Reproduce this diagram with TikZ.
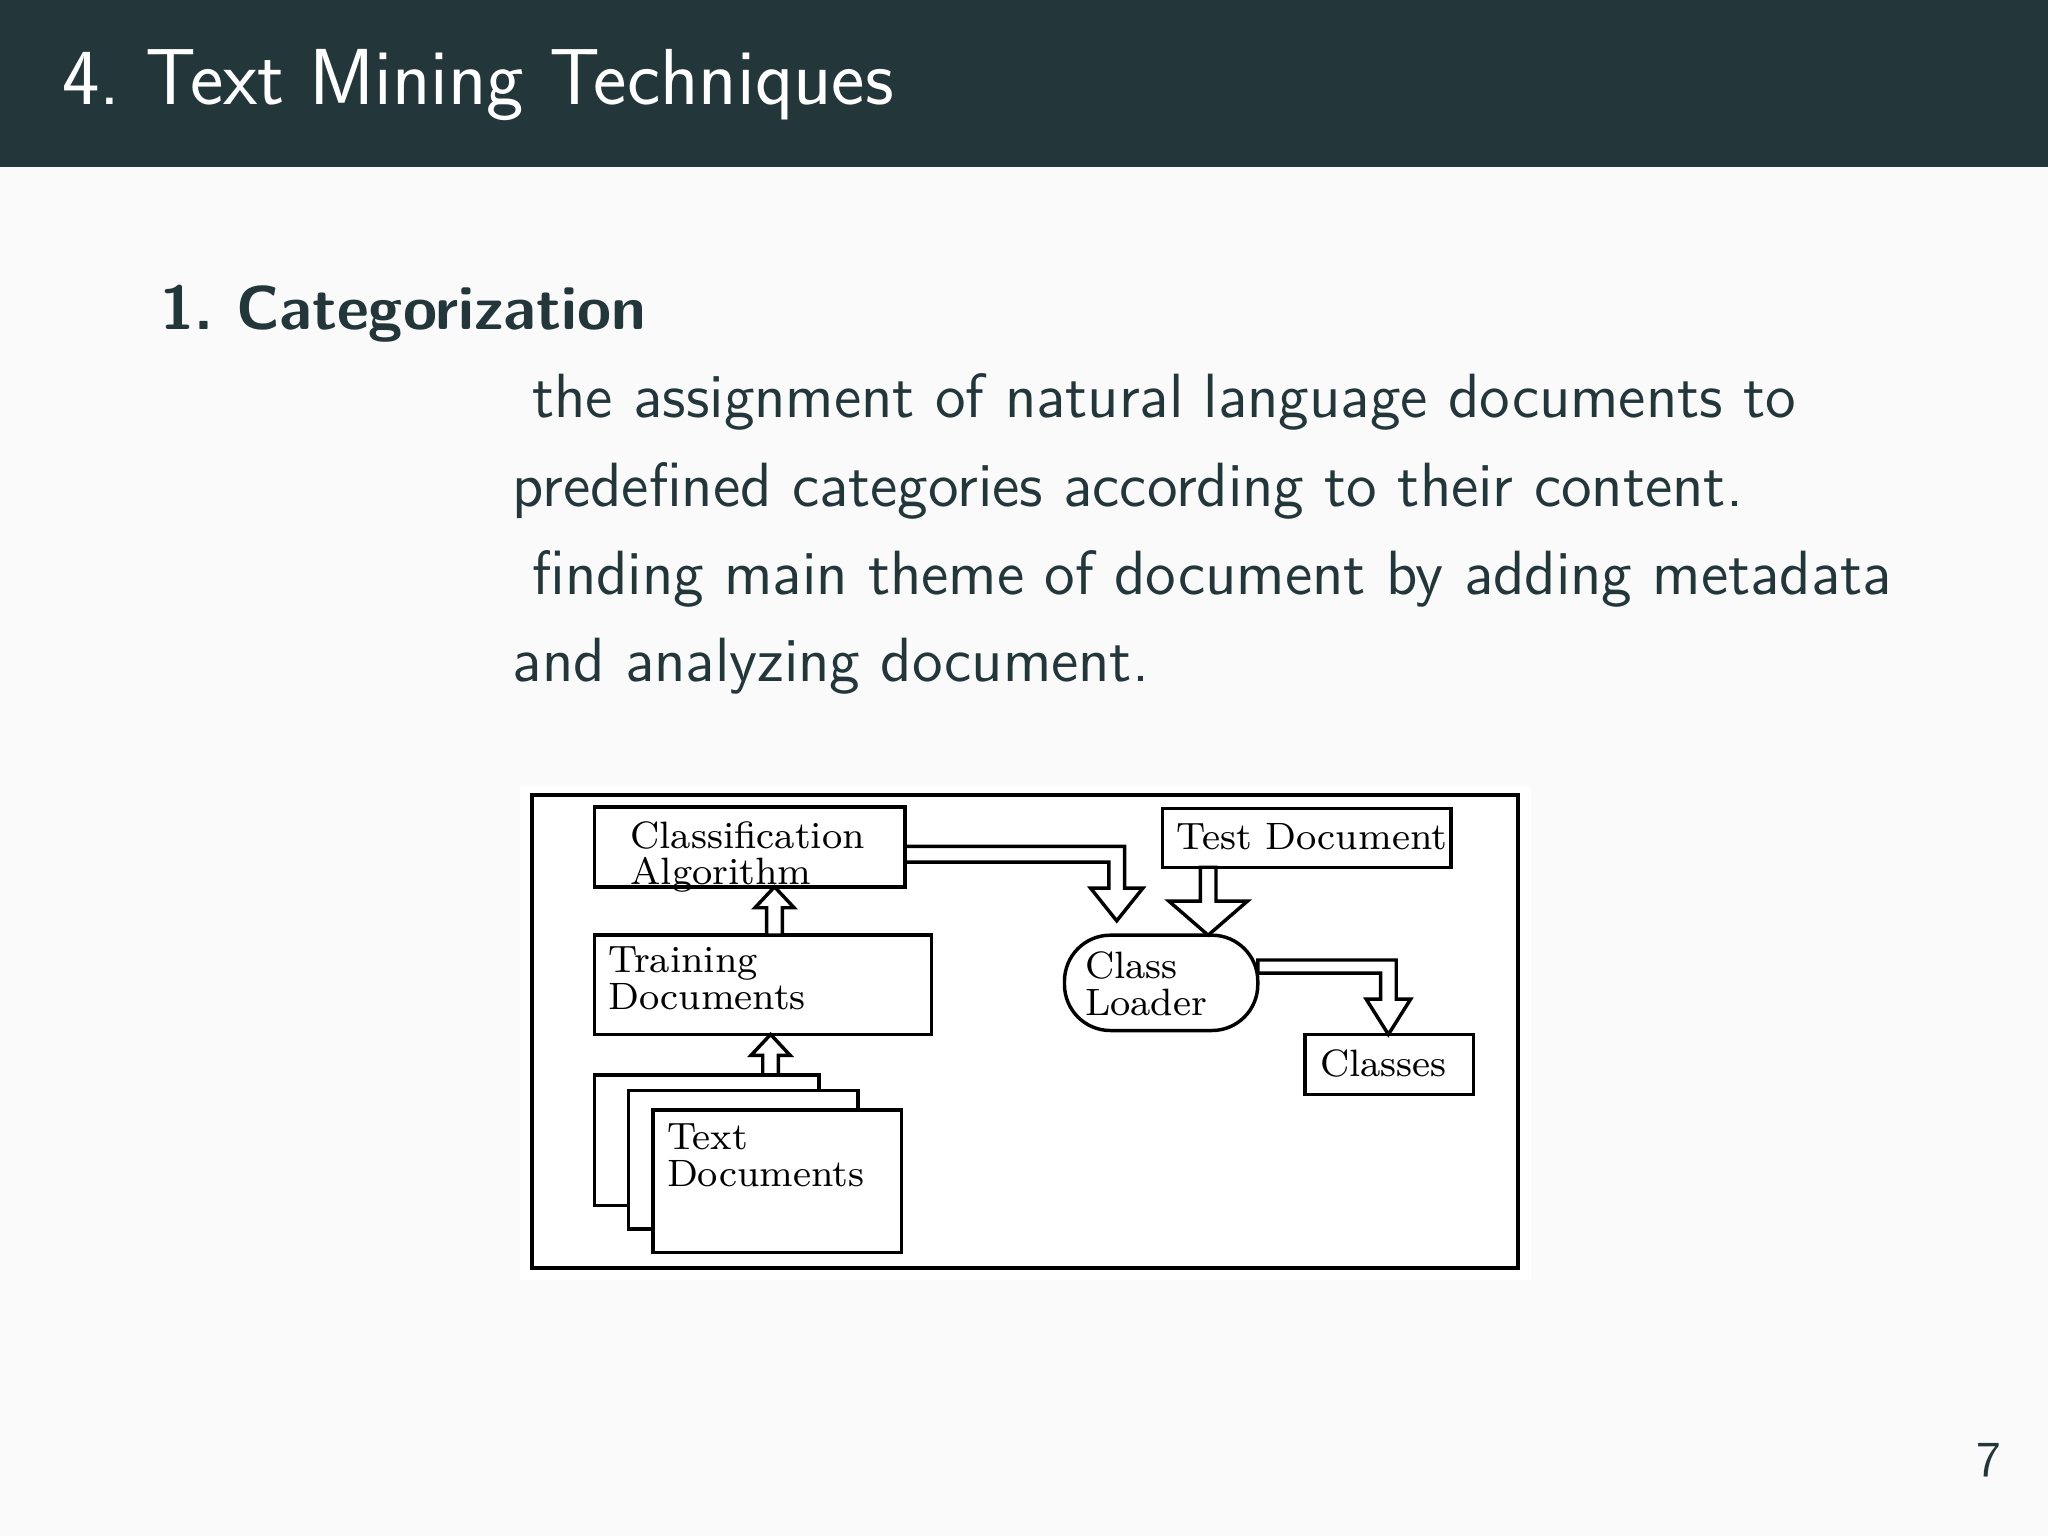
\documentclass[tikz,border=0pt]{standalone}
\usetikzlibrary{calc}
\definecolor{mdark}{HTML}{23373B}
\begin{document}
\begin{tikzpicture}[x=0.01cm,y=-0.01cm,
 box/.style={draw,line width=0.75pt,fill=white,inner sep=0pt},
 dtext/.style={font=\fontsize{8.3}{8}\selectfont,align=left,anchor=north west,inner sep=0pt},
 harrow/.style={draw,line width=0.75pt,fill=white},
 body/.style={anchor=west,inner sep=0pt,font=\sffamily\fontsize{13.6}{17}\selectfont,text=mdark}]
\useasboundingbox (0,0) rectangle (1568,1176);
\fill[black!2] (0,0) rectangle (1568,1176);
\fill[mdark] (0,0) rectangle (1568,128);
\node[anchor=west,inner sep=0pt,text=white,font=\sffamily\fontsize{17.3}{20}\selectfont] (title) at (47,65) {4.\ Text Mining Techniques};
\node[body,font=\sffamily\bfseries\fontsize{13.5}{17}\selectfont] (h) at (122,240) {1.\ Categorization};
\node[body] (l1) at (407,308) {the assignment of natural language documents to};
\node[body] (l2) at (392,376) {predefined categories according to their content.};
\node[body] (l3) at (407,443) {finding main theme of document by adding metadata};
\node[body] (l4) at (392,510) {and analyzing document.};
\node[anchor=east,inner sep=0pt,text=mdark,font=\sffamily\fontsize{11}{14}\selectfont] (pg) at (1533,1118) {7};
% diagram
\fill[white] (398,602) rectangle (1172,980);
\draw[line width=0.9pt] (407,609) rectangle (1162,971);
\draw[box] (455,618) rectangle (693,679);
\node[dtext] (ca) at (482,628) {Classification\\Algorithm};
\draw[box] (455,716) rectangle (713,792);
\node[dtext] (td) at (465,724) {Training\\Documents};
\draw[box] (455,823) rectangle (627,923);
\draw[box] (481,835) rectangle (657,941);
\draw[box] (500,850) rectangle (690,959);
\node[dtext] (tx) at (510,860) {Text\\Documents};
\draw[box] (890,619) rectangle (1111,664);
\node[dtext] (tst) at (900,630) {Test Document};
\draw[box,rounded corners=10pt] (815,716) rectangle (963,789);
\node[dtext] (cl) at (830,728) {Class\\Loader};
\draw[box] (999,792) rectangle (1128,838);
\node[dtext] (cs) at (1010,803) {Classes};
% hollow arrows
\draw[harrow] (587,716)--(587,695)--(578,695)--(593,679)--(608,695)--(599,695)--(599,716)--cycle;
\draw[harrow] (584,823)--(584,808)--(575,808)--(590,792)--(605,808)--(596,808)--(596,823)--cycle;
\draw[harrow] (693,648)--(861,648)--(861,680)--(875,680)--(855,705)--(835,680)--(849,680)--(849,660)--(693,660)--cycle;
\draw[harrow] (919,664)--(931,664)--(931,690)--(955,690)--(925,716)--(895,690)--(919,690)--cycle;
\draw[harrow] (963,735)--(1069,735)--(1069,765)--(1080,765)--(1063,792)--(1046,765)--(1057,765)--(1057,745)--(963,745)--cycle;
\end{tikzpicture}
\end{document}
